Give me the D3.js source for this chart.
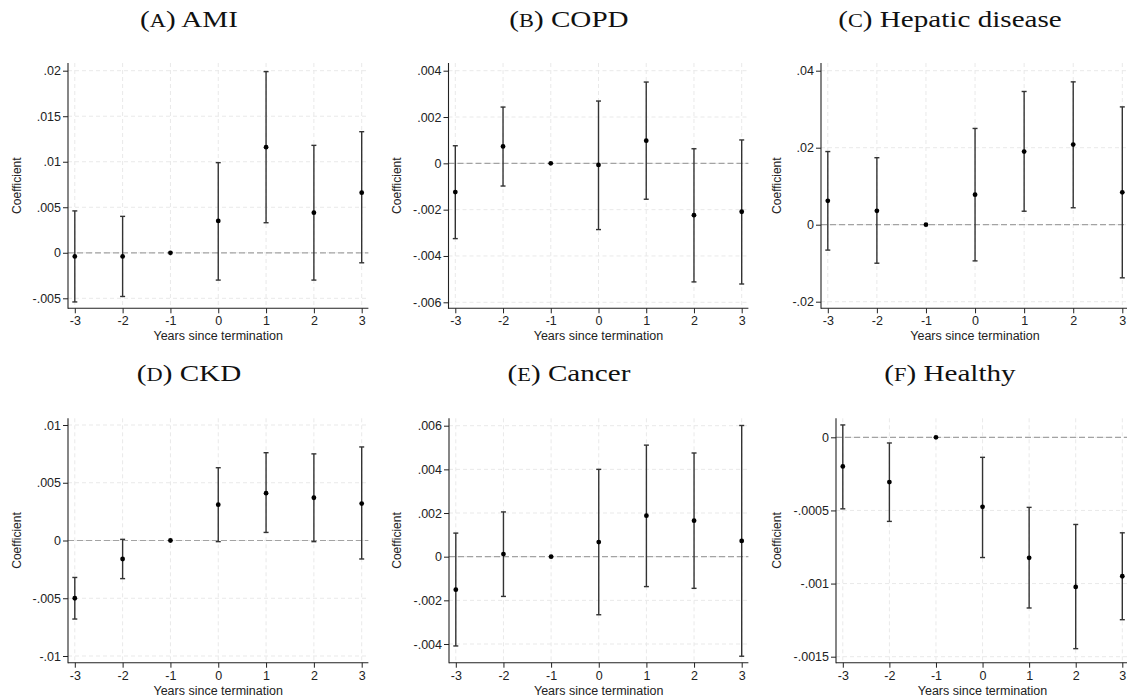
<!DOCTYPE html>
<html>
<head>
<meta charset="utf-8">
<script src="https://cdn.jsdelivr.net/npm/d3@7"></script>
<style>
  html, body { margin: 0; padding: 0; background: #fff; }
  svg { display: block; }
</style>
</head>
<body>
<svg id="chart" width="1127" height="698"></svg>
<script>
// ---------------- DATA ----------------
const years = [-3, -2, -1, 0, 1, 2, 3];

const amiCoef = [-0.0004, -0.0004, 0, 0.0035, 0.0116, 0.0044, 0.0066];
const amiHi   = [0.0046, 0.0040, null, 0.0099, 0.0199, 0.0118, 0.0133];
const amiLo   = [-0.0054, -0.0048, null, -0.0030, 0.0033, -0.0030, -0.0011];

const copdCoef = [-0.00124, 0.00073, 0, -0.00007, 0.00098, -0.00224, -0.00209];
const copdHi   = [0.00076, 0.00243, null, 0.00269, 0.00351, 0.00063, 0.00101];
const copdLo   = [-0.00325, -0.00098, null, -0.00286, -0.00155, -0.00512, -0.00521];

const hepCoef = [0.0062, 0.0036, 0, 0.0078, 0.0190, 0.0208, 0.0084];
const hepHi   = [0.0190, 0.0174, null, 0.0250, 0.0346, 0.0371, 0.0306];
const hepLo   = [-0.0066, -0.0100, null, -0.0094, 0.0035, 0.0044, -0.0138];

const ckdCoef = [-0.0050, -0.0016, 0, 0.0031, 0.0041, 0.0037, 0.0032];
const ckdHi   = [-0.0032, 0.0001, null, 0.0063, 0.0076, 0.0075, 0.0081];
const ckdLo   = [-0.0068, -0.0033, null, -0.0001, 0.0007, -0.0001, -0.0016];

const cancerCoef = [-0.00151, 0.00012, 0, 0.00067, 0.00188, 0.00165, 0.00072];
const cancerHi   = [0.00108, 0.00205, null, 0.00400, 0.00511, 0.00475, 0.00601];
const cancerLo   = [-0.00409, -0.00182, null, -0.00266, -0.00137, -0.00145, -0.00456];

const healthyCoef = [-0.000199, -0.000306, 0, -0.000475, -0.000824, -0.001023, -0.00095];
const healthyHi   = [0.0000845, -0.0000388, null, -0.000137, -0.000479, -0.000596, -0.000653];
const healthyLo   = [-0.000489, -0.000575, null, -0.000822, -0.001167, -0.001445, -0.001247];

const amiTicks = [-0.005, 0, 0.005, 0.01, 0.015, 0.02];
const amiTickLabels = ["-.005", "0", ".005", ".01", ".015", ".02"];
const copdTicks = [-0.006, -0.004, -0.002, 0, 0.002, 0.004];
const copdTickLabels = ["-.006", "-.004", "-.002", "0", ".002", ".004"];
const hepTicks = [-0.02, 0, 0.02, 0.04];
const hepTickLabels = ["-.02", "0", ".02", ".04"];
const ckdTicks = [-0.01, -0.005, 0, 0.005, 0.01];
const ckdTickLabels = ["-.01", "-.005", "0", ".005", ".01"];
const cancerTicks = [-0.004, -0.002, 0, 0.002, 0.004, 0.006];
const cancerTickLabels = ["-.004", "-.002", "0", ".002", ".004", ".006"];
const healthyTicks = [-0.0015, -0.001, -0.0005, 0];
const healthyTickLabels = ["-.0015", "-.001", "-.0005", "0"];

const xTickLabels = ["-3", "-2", "-1", "0", "1", "2", "3"];
const panelLetters = ["A", "B", "C", "D", "E", "F"];
const panelNames = ["AMI", "COPD", "Hepatic disease", "CKD", "Cancer", "Healthy"];
const yTitle = "Coefficient";
const xTitle = "Years since termination";

// ---------------- LAYOUT ----------------
const panels = [
  { coef: amiCoef, lo: amiLo, hi: amiHi, ticks: amiTicks, labels: amiTickLabels,
    left: 68, x3: 361.7, tickTopPx: 70.7, tickBotPx: 298.3, top: 63, bottom: 308.3, cx: 189, ty: 27, yt: 21 },
  { coef: copdCoef, lo: copdLo, hi: copdHi, ticks: copdTicks, labels: copdTickLabels,
    left: 448.5, x3: 741.7, tickTopPx: 70.7, tickBotPx: 302.3, top: 63, bottom: 308.3, cx: 569, ty: 27, yt: 401 },
  { coef: hepCoef, lo: hepLo, hi: hepHi, ticks: hepTicks, labels: hepTickLabels,
    left: 821, x3: 1122.3, tickTopPx: 70.7, tickBotPx: 301.7, top: 63, bottom: 308.3, cx: 950, ty: 27, yt: 781 },
  { coef: ckdCoef, lo: ckdLo, hi: ckdHi, ticks: ckdTicks, labels: ckdTickLabels,
    left: 68, x3: 361.7, tickTopPx: 425, tickBotPx: 656, top: 418.3, bottom: 662.7, cx: 189, ty: 381, yt: 21 },
  { coef: cancerCoef, lo: cancerLo, hi: cancerHi, ticks: cancerTicks, labels: cancerTickLabels,
    left: 449, x3: 741.7, tickTopPx: 425.7, tickBotPx: 644, top: 418.3, bottom: 662.7, cx: 569, ty: 381, yt: 401 },
  { coef: healthyCoef, lo: healthyLo, hi: healthyHi, ticks: healthyTicks, labels: healthyTickLabels,
    left: 836, x3: 1122.3, tickTopPx: 437.3, tickBotPx: 656.7, top: 418.3, bottom: 662.7, cx: 950, ty: 381, yt: 781 }
];

const svg = d3.select("#chart");
const sansFont = "'Liberation Sans', Arial, Helvetica, sans-serif";
const serifFont = "'Liberation Serif', 'Times New Roman', serif";

panels.forEach((p, i) => {
  const g = svg.append("g");
  const right = p.x3 + 6.7;
  const x = d3.scaleLinear().domain([-3, 3]).range([p.left + 6.8, p.x3]);
  const y = d3.scaleLinear().domain([p.ticks[0], p.ticks[p.ticks.length - 1]])
    .range([p.tickBotPx, p.tickTopPx]);

  // Title
  const t = g.append("text")
    .attr("transform", `translate(${p.cx},${p.ty}) scale(1.24,1)`)
    .attr("text-anchor", "middle")
    .attr("font-family", serifFont)
    .attr("font-size", 23.5)
    .attr("fill", "#111");
  t.append("tspan").text("(");
  t.append("tspan").attr("font-size", 18).text(panelLetters[i]);
  t.append("tspan").text(") " + panelNames[i]);

  // Grid lines
  g.append("g").selectAll("line").data(p.ticks).join("line")
    .attr("x1", p.left).attr("x2", right)
    .attr("y1", d => y(d)).attr("y2", d => y(d))
    .attr("stroke", "#e9e9e9").attr("stroke-width", 1)
    .attr("stroke-dasharray", "4,3");
  g.append("g").selectAll("line").data(years).join("line")
    .attr("x1", d => x(d)).attr("x2", d => x(d))
    .attr("y1", p.top).attr("y2", p.bottom)
    .attr("stroke", "#e9e9e9").attr("stroke-width", 1)
    .attr("stroke-dasharray", "4,3");

  // Zero reference line
  g.append("line")
    .attr("x1", p.left).attr("x2", right)
    .attr("y1", y(0)).attr("y2", y(0))
    .attr("stroke", "#a3a3a3").attr("stroke-width", 1.2)
    .attr("stroke-dasharray", "6,3");

  // Y axis
  const yAxis = d3.axisLeft(y).tickValues(p.ticks)
    .tickFormat((d, k) => p.labels[k]).tickSize(5).tickPadding(2);
  const ya = g.append("g").attr("transform", `translate(${p.left},0)`).call(yAxis);
  ya.select(".domain").remove();
  ya.selectAll("line").attr("stroke", "#222");
  ya.selectAll("text").attr("font-family", sansFont).attr("font-size", 12.5).attr("fill", "#222");

  // X axis
  const xAxis = d3.axisBottom(x).tickValues(years)
    .tickFormat((d, k) => xTickLabels[k]).tickSize(5).tickPadding(3);
  const xa = g.append("g").attr("transform", `translate(0,${p.bottom})`).call(xAxis);
  xa.select(".domain").remove();
  xa.selectAll("line").attr("stroke", "#222");
  xa.selectAll("text").attr("font-family", sansFont).attr("font-size", 12.5).attr("fill", "#222");

  // Axis lines
  g.append("line").attr("x1", p.left).attr("x2", p.left)
    .attr("y1", p.top).attr("y2", p.bottom + 0.5)
    .attr("stroke", "#222").attr("stroke-width", 1.1);
  g.append("line").attr("x1", p.left).attr("x2", right)
    .attr("y1", p.bottom).attr("y2", p.bottom)
    .attr("stroke", "#222").attr("stroke-width", 1.1);

  // Axis titles
  g.append("text")
    .attr("transform", `translate(${p.yt},${(p.top + p.bottom) / 2}) rotate(-90)`)
    .attr("text-anchor", "middle")
    .attr("font-family", sansFont).attr("font-size", 12).attr("fill", "#222")
    .text(yTitle);
  g.append("text")
    .attr("x", (p.left + right) / 2).attr("y", p.bottom + 32)
    .attr("text-anchor", "middle")
    .attr("font-family", sansFont).attr("font-size", 12.5).attr("fill", "#222")
    .text(xTitle);

  // Error bars
  const rows = years.map((yr, k) => ({ yr, c: p.coef[k], lo: p.lo[k], hi: p.hi[k] }));
  const withCI = rows.filter(r => r.lo !== null && r.hi !== null);
  const eb = g.append("g").attr("stroke", "#333").attr("stroke-width", 1.4);
  eb.selectAll("line.v").data(withCI).join("line").attr("class", "v")
    .attr("x1", d => x(d.yr)).attr("x2", d => x(d.yr))
    .attr("y1", d => y(d.lo)).attr("y2", d => y(d.hi));
  eb.selectAll("line.capHi").data(withCI).join("line").attr("class", "capHi")
    .attr("x1", d => x(d.yr) - 2.5).attr("x2", d => x(d.yr) + 2.5)
    .attr("y1", d => y(d.hi)).attr("y2", d => y(d.hi));
  eb.selectAll("line.capLo").data(withCI).join("line").attr("class", "capLo")
    .attr("x1", d => x(d.yr) - 2.5).attr("x2", d => x(d.yr) + 2.5)
    .attr("y1", d => y(d.lo)).attr("y2", d => y(d.lo));

  // Points
  g.append("g").selectAll("circle").data(rows).join("circle")
    .attr("cx", d => x(d.yr)).attr("cy", d => y(d.c))
    .attr("r", 2.4).attr("fill", "#000");
});
</script>
</body>
</html>
